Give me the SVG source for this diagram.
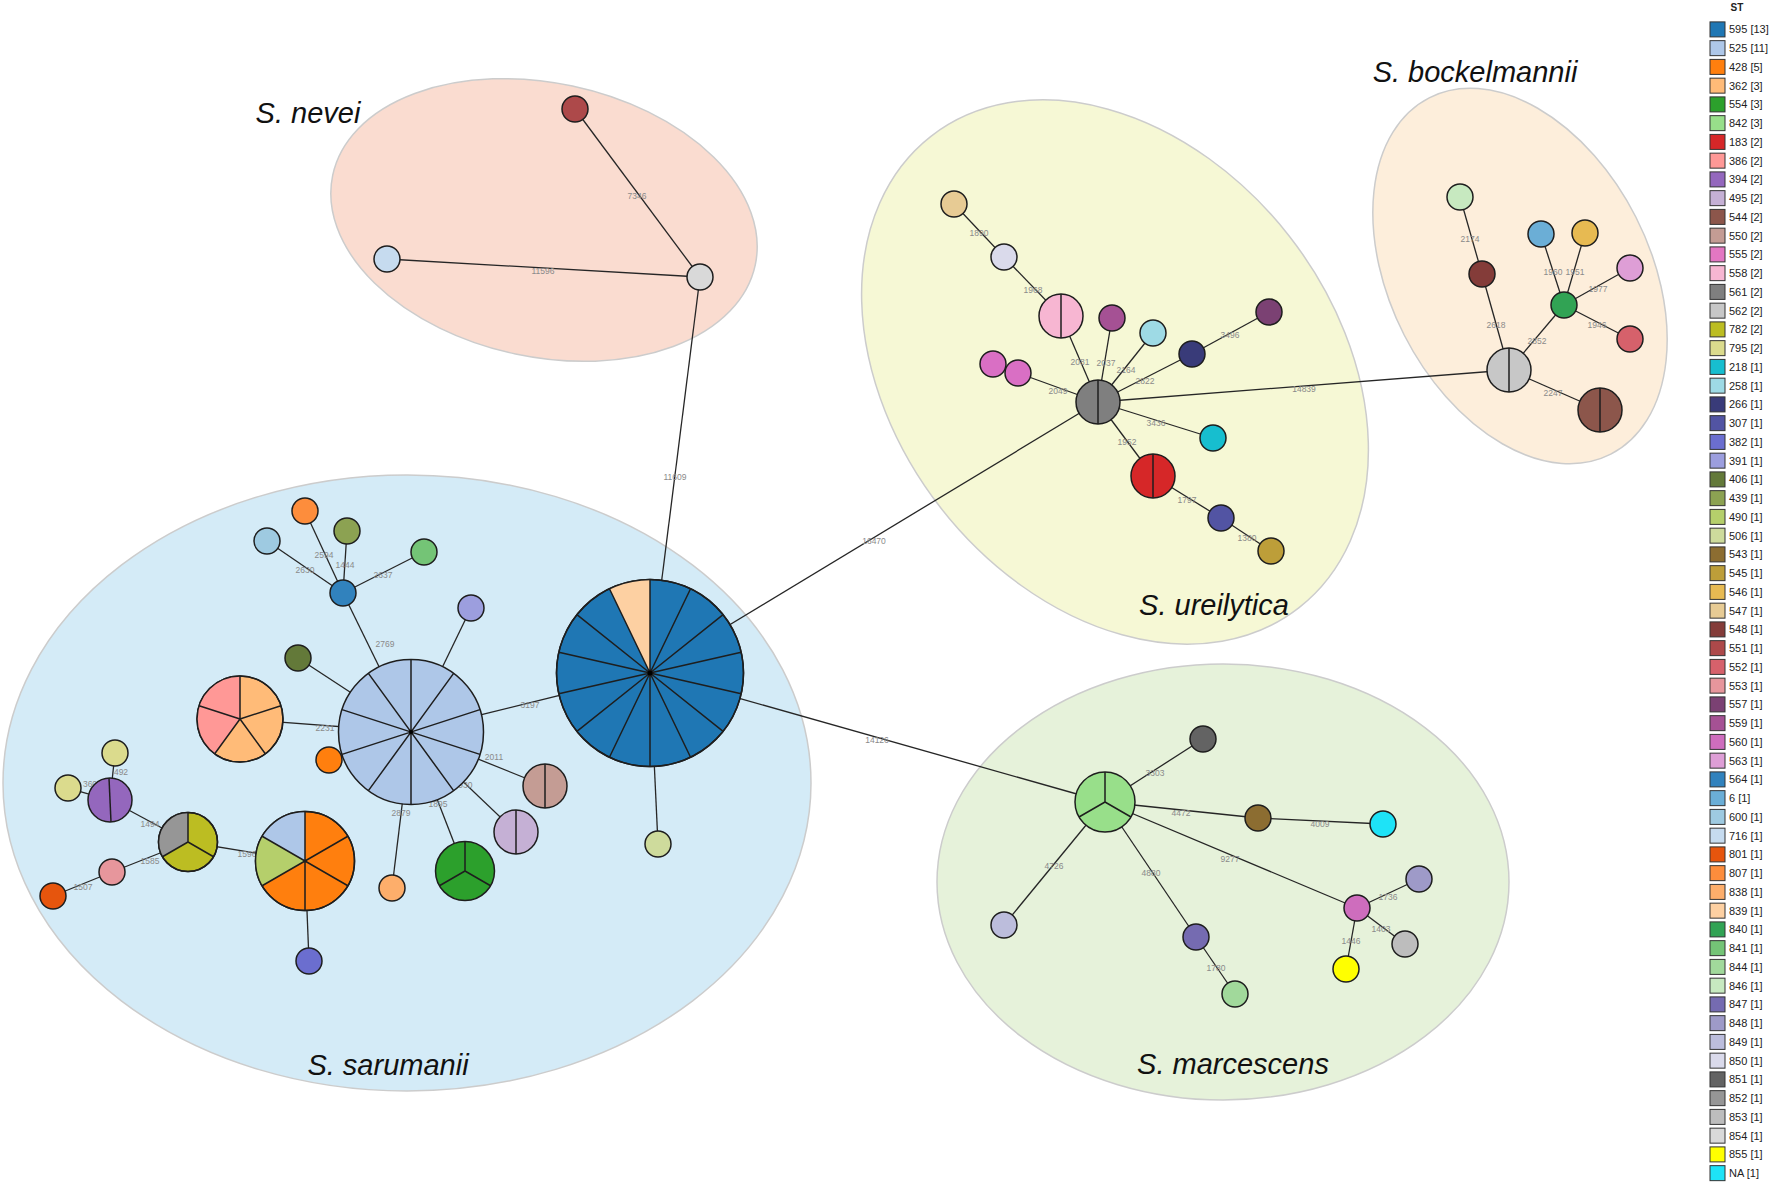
<svg xmlns="http://www.w3.org/2000/svg" width="1772" height="1185" viewBox="0 0 1772 1185">
<style>
.bg{stroke:#cccccc;stroke-width:1.5}
.e{stroke:#262626;stroke-width:1.3}
.n{stroke:#1e1e1e;stroke-width:1.5}
.d{stroke:#1e1e1e;stroke-width:1.5;fill:none}
.l{font-family:"Liberation Sans",Arial,sans-serif;font-size:8.5px;fill:#8a8a8a;text-anchor:middle;dominant-baseline:central}
.sp{font-family:"Liberation Sans",Arial,sans-serif;font-size:29px;font-style:italic;fill:#111;text-anchor:middle}
.lg{font-family:"Liberation Sans",Arial,sans-serif;font-size:11px;fill:#222}
.sw{stroke:#333;stroke-width:1}
</style>
<rect width="1772" height="1185" fill="#ffffff"/>
<g id="groups">
<ellipse class="bg" cx="407" cy="783" rx="404" ry="308" fill="#d4ebf7"/>
<ellipse class="bg" cx="1223" cy="882" rx="286" ry="218" fill="#e6f2da"/>
<ellipse class="bg" cx="1115" cy="372" rx="299" ry="221" fill="#f6f8d5" transform="rotate(52 1115 372)"/>
<ellipse class="bg" cx="1520" cy="276" rx="200" ry="130" fill="#fdeedb" transform="rotate(63 1520 276)"/>
<ellipse class="bg" cx="544" cy="220" rx="216" ry="137" fill="#fadcd0" transform="rotate(12 544 220)"/>
<text class="sp" x="308" y="123">S. nevei</text>
<text class="sp" x="1475" y="82">S. bockelmannii</text>
<text class="sp" x="1214" y="615">S. ureilytica</text>
<text class="sp" x="388" y="1075">S. sarumanii</text>
<text class="sp" x="1233" y="1074">S. marcescens</text>
</g>
<g id="connectors">
<line class="e" x1="575" y1="109" x2="700" y2="277"/>
<line class="e" x1="387" y1="259" x2="700" y2="277"/>
<line class="e" x1="700" y1="277" x2="650" y2="673"/>
<line class="e" x1="954" y1="204" x2="1004" y2="257"/>
<line class="e" x1="1004" y1="257" x2="1061" y2="316"/>
<line class="e" x1="1061" y1="316" x2="1098" y2="402"/>
<line class="e" x1="1112" y1="318" x2="1098" y2="402"/>
<line class="e" x1="1153" y1="333" x2="1098" y2="402"/>
<line class="e" x1="1192" y1="354" x2="1098" y2="402"/>
<line class="e" x1="1192" y1="354" x2="1269" y2="312"/>
<line class="e" x1="1018" y1="373" x2="1098" y2="402"/>
<line class="e" x1="1213" y1="438" x2="1098" y2="402"/>
<line class="e" x1="1153" y1="476" x2="1098" y2="402"/>
<line class="e" x1="1153" y1="476" x2="1221" y2="518"/>
<line class="e" x1="1221" y1="518" x2="1271" y2="551"/>
<line class="e" x1="1098" y1="402" x2="1509" y2="370"/>
<line class="e" x1="1098" y1="402" x2="650" y2="673"/>
<line class="e" x1="1460" y1="197" x2="1482" y2="274"/>
<line class="e" x1="1482" y1="274" x2="1509" y2="370"/>
<line class="e" x1="1509" y1="370" x2="1564" y2="305"/>
<line class="e" x1="1564" y1="305" x2="1541" y2="234"/>
<line class="e" x1="1564" y1="305" x2="1585" y2="233"/>
<line class="e" x1="1564" y1="305" x2="1630" y2="268"/>
<line class="e" x1="1564" y1="305" x2="1630" y2="339"/>
<line class="e" x1="1509" y1="370" x2="1600" y2="410"/>
<line class="e" x1="650" y1="673" x2="1105" y2="802"/>
<line class="e" x1="1105" y1="802" x2="1203" y2="739"/>
<line class="e" x1="1105" y1="802" x2="1258" y2="818"/>
<line class="e" x1="1258" y1="818" x2="1383" y2="824"/>
<line class="e" x1="1105" y1="802" x2="1357" y2="908"/>
<line class="e" x1="1105" y1="802" x2="1004" y2="925"/>
<line class="e" x1="1105" y1="802" x2="1196" y2="937"/>
<line class="e" x1="1196" y1="937" x2="1235" y2="994"/>
<line class="e" x1="1357" y1="908" x2="1419" y2="879"/>
<line class="e" x1="1357" y1="908" x2="1405" y2="944"/>
<line class="e" x1="1357" y1="908" x2="1346" y2="969"/>
<line class="e" x1="650" y1="673" x2="411" y2="732"/>
<line class="e" x1="650" y1="673" x2="658" y2="844"/>
<line class="e" x1="411" y1="732" x2="343" y2="593"/>
<line class="e" x1="343" y1="593" x2="267" y2="541"/>
<line class="e" x1="343" y1="593" x2="305" y2="511"/>
<line class="e" x1="343" y1="593" x2="347" y2="531"/>
<line class="e" x1="343" y1="593" x2="424" y2="552"/>
<line class="e" x1="411" y1="732" x2="471" y2="608"/>
<line class="e" x1="411" y1="732" x2="298" y2="658"/>
<line class="e" x1="411" y1="732" x2="240" y2="719"/>
<line class="e" x1="411" y1="732" x2="545" y2="786"/>
<line class="e" x1="411" y1="732" x2="516" y2="832"/>
<line class="e" x1="411" y1="732" x2="465" y2="871"/>
<line class="e" x1="411" y1="732" x2="392" y2="888"/>
<line class="e" x1="305" y1="861" x2="188" y2="842"/>
<line class="e" x1="305" y1="861" x2="309" y2="961"/>
<line class="e" x1="188" y1="842" x2="110" y2="800"/>
<line class="e" x1="188" y1="842" x2="112" y2="872"/>
<line class="e" x1="112" y1="872" x2="53" y2="896"/>
<line class="e" x1="110" y1="800" x2="115" y2="753"/>
<line class="e" x1="110" y1="800" x2="68" y2="788"/>
<g id="edge-labels">
<text class="l" x="637" y="196">7346</text>
<text class="l" x="543" y="271">11596</text>
<text class="l" x="675" y="477">11609</text>
<text class="l" x="979" y="233">1890</text>
<text class="l" x="1033" y="290">1968</text>
<text class="l" x="1080" y="362">2081</text>
<text class="l" x="1106" y="363">2037</text>
<text class="l" x="1126" y="370">2164</text>
<text class="l" x="1145" y="381">2822</text>
<text class="l" x="1230" y="335">3496</text>
<text class="l" x="1058" y="391">2049</text>
<text class="l" x="1156" y="423">3436</text>
<text class="l" x="1127" y="442">1952</text>
<text class="l" x="1187" y="500">1797</text>
<text class="l" x="1247" y="538">1380</text>
<text class="l" x="1304" y="389">14839</text>
<text class="l" x="874" y="541">16470</text>
<text class="l" x="1470" y="239">2174</text>
<text class="l" x="1496" y="325">2618</text>
<text class="l" x="1537" y="341">2852</text>
<text class="l" x="1553" y="272">1960</text>
<text class="l" x="1575" y="272">1951</text>
<text class="l" x="1598" y="289">1977</text>
<text class="l" x="1597" y="325">1946</text>
<text class="l" x="1553" y="393">2247</text>
<text class="l" x="877" y="740">14126</text>
<text class="l" x="1155" y="773">3303</text>
<text class="l" x="1181" y="813">4472</text>
<text class="l" x="1320" y="824">4009</text>
<text class="l" x="1230" y="859">9277</text>
<text class="l" x="1054" y="866">4726</text>
<text class="l" x="1151" y="873">4880</text>
<text class="l" x="1216" y="968">1780</text>
<text class="l" x="1388" y="897">1736</text>
<text class="l" x="1381" y="929">1403</text>
<text class="l" x="1351" y="941">1446</text>
<text class="l" x="530" y="705">3197</text>
<text class="l" x="385" y="644">2769</text>
<text class="l" x="305" y="570">2630</text>
<text class="l" x="324" y="555">2594</text>
<text class="l" x="345" y="565">1444</text>
<text class="l" x="383" y="575">2637</text>
<text class="l" x="325" y="728">2231</text>
<text class="l" x="494" y="757">2011</text>
<text class="l" x="463" y="785">1930</text>
<text class="l" x="438" y="804">1895</text>
<text class="l" x="401" y="813">2879</text>
<text class="l" x="247" y="854">1596</text>
<text class="l" x="150" y="824">1494</text>
<text class="l" x="150" y="861">1585</text>
<text class="l" x="83" y="887">1507</text>
<text class="l" x="121" y="772">492</text>
<text class="l" x="90" y="784">360</text>
</g>
</g>
<g id="nodes">
<g id="n551"><circle class="n" cx="575" cy="109" r="13" fill="#ad494a"/></g>
<g id="n716"><circle class="n" cx="387" cy="259" r="13" fill="#c6dbef"/></g>
<g id="n854"><circle class="n" cx="700" cy="277" r="13" fill="#d9d9d9"/></g>
<g id="n547"><circle class="n" cx="954" cy="204" r="13" fill="#e7cb94"/></g>
<g id="n850"><circle class="n" cx="1004" cy="257" r="13" fill="#dadaeb"/></g>
<g id="n558"><circle class="n" cx="1061" cy="316" r="22" fill="#f7b6d2"/><line class="d" x1="1061" y1="294" x2="1061" y2="338"/></g>
<g id="n559"><circle class="n" cx="1112" cy="318" r="13" fill="#a55194"/></g>
<g id="n258"><circle class="n" cx="1153" cy="333" r="13" fill="#9edae5"/></g>
<g id="n266"><circle class="n" cx="1192" cy="354" r="13" fill="#393b79"/></g>
<g id="n557"><circle class="n" cx="1269" cy="312" r="13" fill="#7b4173"/></g>
<g id="n555a"><circle class="n" cx="993" cy="364" r="13" fill="#d96fc4"/></g>
<g id="n555b"><circle class="n" cx="1018" cy="373" r="13" fill="#d96fc4"/></g>
<g id="n561"><circle class="n" cx="1098" cy="402" r="22" fill="#7f7f7f"/><line class="d" x1="1098" y1="380" x2="1098" y2="424"/></g>
<g id="n218"><circle class="n" cx="1213" cy="438" r="13" fill="#17becf"/></g>
<g id="n183"><circle class="n" cx="1153" cy="476" r="22" fill="#d62728"/><line class="d" x1="1153" y1="454" x2="1153" y2="498"/></g>
<g id="n307"><circle class="n" cx="1221" cy="518" r="13" fill="#5254a3"/></g>
<g id="n545"><circle class="n" cx="1271" cy="551" r="13" fill="#bd9e39"/></g>
<g id="n846"><circle class="n" cx="1460" cy="197" r="13" fill="#c7e9c0"/></g>
<g id="n548"><circle class="n" cx="1482" cy="274" r="13" fill="#843c39"/></g>
<g id="n6"><circle class="n" cx="1541" cy="234" r="13" fill="#6baed6"/></g>
<g id="n546"><circle class="n" cx="1585" cy="233" r="13" fill="#e7ba52"/></g>
<g id="n563"><circle class="n" cx="1630" cy="268" r="13" fill="#de9ed6"/></g>
<g id="n840"><circle class="n" cx="1564" cy="305" r="13" fill="#31a354"/></g>
<g id="n552"><circle class="n" cx="1630" cy="339" r="13" fill="#d6616b"/></g>
<g id="n562"><circle class="n" cx="1509" cy="370" r="22" fill="#c7c7c7"/><line class="d" x1="1509" y1="348" x2="1509" y2="392"/></g>
<g id="n544"><circle class="n" cx="1600" cy="410" r="22" fill="#8c564b"/><line class="d" x1="1600" y1="388" x2="1600" y2="432"/></g>
<g id="n842"><circle class="n" cx="1105" cy="802" r="30" fill="#98df8a"/><path class="d" d="M1105,802 L1105,772 M1105,802 L1131,817 M1105,802 L1079,817"/></g>
<g id="n851"><circle class="n" cx="1203" cy="739" r="13" fill="#636363"/></g>
<g id="n543"><circle class="n" cx="1258" cy="818" r="13" fill="#8c6d31"/></g>
<g id="nNA"><circle class="n" cx="1383" cy="824" r="13" fill="#1ee3f7"/></g>
<g id="n849"><circle class="n" cx="1004" cy="925" r="13" fill="#bcbddc"/></g>
<g id="n847"><circle class="n" cx="1196" cy="937" r="13" fill="#756bb1"/></g>
<g id="n844"><circle class="n" cx="1235" cy="994" r="13" fill="#a1d99b"/></g>
<g id="n560"><circle class="n" cx="1357" cy="908" r="13" fill="#ce6dbd"/></g>
<g id="n848"><circle class="n" cx="1419" cy="879" r="13" fill="#9e9ac8"/></g>
<g id="n853"><circle class="n" cx="1405" cy="944" r="13" fill="#bdbdbd"/></g>
<g id="n855"><circle class="n" cx="1346" cy="969" r="13" fill="#ffff00"/></g>
<g id="n595">
<circle class="n" cx="650" cy="673" r="93.5" fill="#1f77b4"/>
<path d="M650,673 L609.43,588.76 A93.5,93.5 0 0 1 650,579.5 Z" fill="#fdd0a2"/>
<path class="d" d="M650,673 L650,579.5 M650,673 L690.57,588.76 M650,673 L723.1,614.7 M650,673 L741.16,652.19 M650,673 L741.16,693.81 M650,673 L723.1,731.3 M650,673 L690.57,757.24 M650,673 L650,766.5 M650,673 L609.43,757.24 M650,673 L576.9,731.3 M650,673 L558.84,693.81 M650,673 L558.84,652.19 M650,673 L576.9,614.7 M650,673 L609.43,588.76"/>
<circle class="d" cx="650" cy="673" r="93.5"/>
<circle cx="650" cy="673" r="2.5" fill="#000"/>
</g>
<g id="n525">
<circle class="n" cx="411" cy="732" r="72.5" fill="#aec7e8"/>
<path class="d" d="M411,659.5 L411,804.5 M453.61,673.35 L368.39,790.65 M479.95,709.6 L342.05,754.4 M479.95,754.4 L342.05,709.6 M453.61,790.65 L368.39,673.35"/>
<circle cx="411" cy="732" r="2" fill="#000"/>
</g>
<g id="n564"><circle class="n" cx="343" cy="593" r="13" fill="#3182bd"/></g>
<g id="n807"><circle class="n" cx="305" cy="511" r="13" fill="#fd8d3c"/></g>
<g id="n600"><circle class="n" cx="267" cy="541" r="13" fill="#9ecae1"/></g>
<g id="n439"><circle class="n" cx="347" cy="531" r="13" fill="#8ca252"/></g>
<g id="n841"><circle class="n" cx="424" cy="552" r="13" fill="#74c476"/></g>
<g id="n391"><circle class="n" cx="471" cy="608" r="13" fill="#9c9ede"/></g>
<g id="n406"><circle class="n" cx="298" cy="658" r="13" fill="#637939"/></g>
<g id="n428s"><circle class="n" cx="329" cy="760" r="13" fill="#ff7f0e"/></g>
<g id="n386">
<circle class="n" cx="240" cy="719" r="43" fill="#ffbb78"/>
<path d="M240,719 L214.72,753.79 A43,43 0 0 1 240,676 Z" fill="#ff9896"/>
<path class="d" d="M240,719 L240,676 M240,719 L280.9,705.71 M240,719 L265.28,753.79 M240,719 L214.72,753.79 M240,719 L199.1,705.71"/>
<circle class="d" cx="240" cy="719" r="43"/>
</g>
<g id="n550"><circle class="n" cx="545" cy="786" r="22" fill="#c49c94"/><line class="d" x1="545" y1="764" x2="545" y2="808"/></g>
<g id="n495"><circle class="n" cx="516" cy="832" r="22" fill="#c5b0d5"/><line class="d" x1="516" y1="810" x2="516" y2="854"/></g>
<g id="n554"><circle class="n" cx="465" cy="871" r="29.5" fill="#2ca02c"/><path class="d" d="M465,871 L465,841.5 M465,871 L490.55,885.75 M465,871 L439.45,885.75"/></g>
<g id="n838"><circle class="n" cx="392" cy="888" r="13" fill="#fdae6b"/></g>
<g id="n506"><circle class="n" cx="658" cy="844" r="13" fill="#cedb9c"/></g>
<g id="n428">
<circle class="n" cx="305" cy="861" r="49.5" fill="#ff7f0e"/>
<path d="M305,861 L262.13,885.75 A49.5,49.5 0 0 1 262.13,836.25 Z" fill="#b5cf6b"/>
<path d="M305,861 L262.13,836.25 A49.5,49.5 0 0 1 305,811.5 Z" fill="#aec7e8"/>
<path class="d" d="M305,811.5 L305,910.5 M347.87,836.25 L262.13,885.75 M347.87,885.75 L262.13,836.25"/>
<circle class="d" cx="305" cy="861" r="49.5"/>
</g>
<g id="n382"><circle class="n" cx="309" cy="961" r="13" fill="#6b6ecf"/></g>
<g id="n782">
<circle class="n" cx="188" cy="842" r="29.5" fill="#bcbd22"/>
<path d="M188,842 L162.45,856.75 A29.5,29.5 0 0 1 188,812.5 Z" fill="#969696"/>
<path class="d" d="M188,842 L188,812.5 M188,842 L213.55,856.75 M188,842 L162.45,856.75"/>
<circle class="d" cx="188" cy="842" r="29.5"/>
</g>
<g id="n394"><circle class="n" cx="110" cy="800" r="22" fill="#9467bd"/><line class="d" x1="109" y1="778" x2="111" y2="822"/></g>
<g id="n795a"><circle class="n" cx="115" cy="753" r="13" fill="#dbdb8d"/></g>
<g id="n795b"><circle class="n" cx="68" cy="788" r="13" fill="#dbdb8d"/></g>
<g id="n553"><circle class="n" cx="112" cy="872" r="13" fill="#e7969c"/></g>
<g id="n801"><circle class="n" cx="53" cy="896" r="13" fill="#e6550d"/></g>
</g>
<g id="legend">
<text x="1737" y="11" font-family="Liberation Sans, Arial, sans-serif" font-size="10" font-weight="bold" fill="#222" text-anchor="middle">ST</text>
<g transform="translate(0,29.4)"><rect class="sw" x="1710" y="-7.5" width="15" height="15" fill="#1f77b4"/><text class="lg" x="1729" y="4">595 [13]</text></g>
<g transform="translate(0,48.15)"><rect class="sw" x="1710" y="-7.5" width="15" height="15" fill="#aec7e8"/><text class="lg" x="1729" y="4">525 [11]</text></g>
<g transform="translate(0,66.9)"><rect class="sw" x="1710" y="-7.5" width="15" height="15" fill="#ff7f0e"/><text class="lg" x="1729" y="4">428 [5]</text></g>
<g transform="translate(0,85.65)"><rect class="sw" x="1710" y="-7.5" width="15" height="15" fill="#ffbb78"/><text class="lg" x="1729" y="4">362 [3]</text></g>
<g transform="translate(0,104.4)"><rect class="sw" x="1710" y="-7.5" width="15" height="15" fill="#2ca02c"/><text class="lg" x="1729" y="4">554 [3]</text></g>
<g transform="translate(0,123.15)"><rect class="sw" x="1710" y="-7.5" width="15" height="15" fill="#98df8a"/><text class="lg" x="1729" y="4">842 [3]</text></g>
<g transform="translate(0,141.9)"><rect class="sw" x="1710" y="-7.5" width="15" height="15" fill="#d62728"/><text class="lg" x="1729" y="4">183 [2]</text></g>
<g transform="translate(0,160.65)"><rect class="sw" x="1710" y="-7.5" width="15" height="15" fill="#ff9896"/><text class="lg" x="1729" y="4">386 [2]</text></g>
<g transform="translate(0,179.4)"><rect class="sw" x="1710" y="-7.5" width="15" height="15" fill="#9467bd"/><text class="lg" x="1729" y="4">394 [2]</text></g>
<g transform="translate(0,198.15)"><rect class="sw" x="1710" y="-7.5" width="15" height="15" fill="#c5b0d5"/><text class="lg" x="1729" y="4">495 [2]</text></g>
<g transform="translate(0,216.9)"><rect class="sw" x="1710" y="-7.5" width="15" height="15" fill="#8c564b"/><text class="lg" x="1729" y="4">544 [2]</text></g>
<g transform="translate(0,235.65)"><rect class="sw" x="1710" y="-7.5" width="15" height="15" fill="#c49c94"/><text class="lg" x="1729" y="4">550 [2]</text></g>
<g transform="translate(0,254.4)"><rect class="sw" x="1710" y="-7.5" width="15" height="15" fill="#e377c2"/><text class="lg" x="1729" y="4">555 [2]</text></g>
<g transform="translate(0,273.15)"><rect class="sw" x="1710" y="-7.5" width="15" height="15" fill="#f7b6d2"/><text class="lg" x="1729" y="4">558 [2]</text></g>
<g transform="translate(0,291.9)"><rect class="sw" x="1710" y="-7.5" width="15" height="15" fill="#7f7f7f"/><text class="lg" x="1729" y="4">561 [2]</text></g>
<g transform="translate(0,310.65)"><rect class="sw" x="1710" y="-7.5" width="15" height="15" fill="#c7c7c7"/><text class="lg" x="1729" y="4">562 [2]</text></g>
<g transform="translate(0,329.4)"><rect class="sw" x="1710" y="-7.5" width="15" height="15" fill="#bcbd22"/><text class="lg" x="1729" y="4">782 [2]</text></g>
<g transform="translate(0,348.15)"><rect class="sw" x="1710" y="-7.5" width="15" height="15" fill="#dbdb8d"/><text class="lg" x="1729" y="4">795 [2]</text></g>
<g transform="translate(0,366.9)"><rect class="sw" x="1710" y="-7.5" width="15" height="15" fill="#17becf"/><text class="lg" x="1729" y="4">218 [1]</text></g>
<g transform="translate(0,385.65)"><rect class="sw" x="1710" y="-7.5" width="15" height="15" fill="#9edae5"/><text class="lg" x="1729" y="4">258 [1]</text></g>
<g transform="translate(0,404.4)"><rect class="sw" x="1710" y="-7.5" width="15" height="15" fill="#393b79"/><text class="lg" x="1729" y="4">266 [1]</text></g>
<g transform="translate(0,423.15)"><rect class="sw" x="1710" y="-7.5" width="15" height="15" fill="#5254a3"/><text class="lg" x="1729" y="4">307 [1]</text></g>
<g transform="translate(0,441.9)"><rect class="sw" x="1710" y="-7.5" width="15" height="15" fill="#6b6ecf"/><text class="lg" x="1729" y="4">382 [1]</text></g>
<g transform="translate(0,460.65)"><rect class="sw" x="1710" y="-7.5" width="15" height="15" fill="#9c9ede"/><text class="lg" x="1729" y="4">391 [1]</text></g>
<g transform="translate(0,479.4)"><rect class="sw" x="1710" y="-7.5" width="15" height="15" fill="#637939"/><text class="lg" x="1729" y="4">406 [1]</text></g>
<g transform="translate(0,498.15)"><rect class="sw" x="1710" y="-7.5" width="15" height="15" fill="#8ca252"/><text class="lg" x="1729" y="4">439 [1]</text></g>
<g transform="translate(0,516.9)"><rect class="sw" x="1710" y="-7.5" width="15" height="15" fill="#b5cf6b"/><text class="lg" x="1729" y="4">490 [1]</text></g>
<g transform="translate(0,535.65)"><rect class="sw" x="1710" y="-7.5" width="15" height="15" fill="#cedb9c"/><text class="lg" x="1729" y="4">506 [1]</text></g>
<g transform="translate(0,554.4)"><rect class="sw" x="1710" y="-7.5" width="15" height="15" fill="#8c6d31"/><text class="lg" x="1729" y="4">543 [1]</text></g>
<g transform="translate(0,573.15)"><rect class="sw" x="1710" y="-7.5" width="15" height="15" fill="#bd9e39"/><text class="lg" x="1729" y="4">545 [1]</text></g>
<g transform="translate(0,591.9)"><rect class="sw" x="1710" y="-7.5" width="15" height="15" fill="#e7ba52"/><text class="lg" x="1729" y="4">546 [1]</text></g>
<g transform="translate(0,610.65)"><rect class="sw" x="1710" y="-7.5" width="15" height="15" fill="#e7cb94"/><text class="lg" x="1729" y="4">547 [1]</text></g>
<g transform="translate(0,629.4)"><rect class="sw" x="1710" y="-7.5" width="15" height="15" fill="#843c39"/><text class="lg" x="1729" y="4">548 [1]</text></g>
<g transform="translate(0,648.15)"><rect class="sw" x="1710" y="-7.5" width="15" height="15" fill="#ad494a"/><text class="lg" x="1729" y="4">551 [1]</text></g>
<g transform="translate(0,666.9)"><rect class="sw" x="1710" y="-7.5" width="15" height="15" fill="#d6616b"/><text class="lg" x="1729" y="4">552 [1]</text></g>
<g transform="translate(0,685.65)"><rect class="sw" x="1710" y="-7.5" width="15" height="15" fill="#e7969c"/><text class="lg" x="1729" y="4">553 [1]</text></g>
<g transform="translate(0,704.4)"><rect class="sw" x="1710" y="-7.5" width="15" height="15" fill="#7b4173"/><text class="lg" x="1729" y="4">557 [1]</text></g>
<g transform="translate(0,723.15)"><rect class="sw" x="1710" y="-7.5" width="15" height="15" fill="#a55194"/><text class="lg" x="1729" y="4">559 [1]</text></g>
<g transform="translate(0,741.9)"><rect class="sw" x="1710" y="-7.5" width="15" height="15" fill="#ce6dbd"/><text class="lg" x="1729" y="4">560 [1]</text></g>
<g transform="translate(0,760.65)"><rect class="sw" x="1710" y="-7.5" width="15" height="15" fill="#de9ed6"/><text class="lg" x="1729" y="4">563 [1]</text></g>
<g transform="translate(0,779.4)"><rect class="sw" x="1710" y="-7.5" width="15" height="15" fill="#3182bd"/><text class="lg" x="1729" y="4">564 [1]</text></g>
<g transform="translate(0,798.15)"><rect class="sw" x="1710" y="-7.5" width="15" height="15" fill="#6baed6"/><text class="lg" x="1729" y="4">6 [1]</text></g>
<g transform="translate(0,816.9)"><rect class="sw" x="1710" y="-7.5" width="15" height="15" fill="#9ecae1"/><text class="lg" x="1729" y="4">600 [1]</text></g>
<g transform="translate(0,835.65)"><rect class="sw" x="1710" y="-7.5" width="15" height="15" fill="#c6dbef"/><text class="lg" x="1729" y="4">716 [1]</text></g>
<g transform="translate(0,854.4)"><rect class="sw" x="1710" y="-7.5" width="15" height="15" fill="#e6550d"/><text class="lg" x="1729" y="4">801 [1]</text></g>
<g transform="translate(0,873.15)"><rect class="sw" x="1710" y="-7.5" width="15" height="15" fill="#fd8d3c"/><text class="lg" x="1729" y="4">807 [1]</text></g>
<g transform="translate(0,891.9)"><rect class="sw" x="1710" y="-7.5" width="15" height="15" fill="#fdae6b"/><text class="lg" x="1729" y="4">838 [1]</text></g>
<g transform="translate(0,910.65)"><rect class="sw" x="1710" y="-7.5" width="15" height="15" fill="#fdd0a2"/><text class="lg" x="1729" y="4">839 [1]</text></g>
<g transform="translate(0,929.4)"><rect class="sw" x="1710" y="-7.5" width="15" height="15" fill="#31a354"/><text class="lg" x="1729" y="4">840 [1]</text></g>
<g transform="translate(0,948.15)"><rect class="sw" x="1710" y="-7.5" width="15" height="15" fill="#74c476"/><text class="lg" x="1729" y="4">841 [1]</text></g>
<g transform="translate(0,966.9)"><rect class="sw" x="1710" y="-7.5" width="15" height="15" fill="#a1d99b"/><text class="lg" x="1729" y="4">844 [1]</text></g>
<g transform="translate(0,985.65)"><rect class="sw" x="1710" y="-7.5" width="15" height="15" fill="#c7e9c0"/><text class="lg" x="1729" y="4">846 [1]</text></g>
<g transform="translate(0,1004.4)"><rect class="sw" x="1710" y="-7.5" width="15" height="15" fill="#756bb1"/><text class="lg" x="1729" y="4">847 [1]</text></g>
<g transform="translate(0,1023.15)"><rect class="sw" x="1710" y="-7.5" width="15" height="15" fill="#9e9ac8"/><text class="lg" x="1729" y="4">848 [1]</text></g>
<g transform="translate(0,1041.9)"><rect class="sw" x="1710" y="-7.5" width="15" height="15" fill="#bcbddc"/><text class="lg" x="1729" y="4">849 [1]</text></g>
<g transform="translate(0,1060.65)"><rect class="sw" x="1710" y="-7.5" width="15" height="15" fill="#dadaeb"/><text class="lg" x="1729" y="4">850 [1]</text></g>
<g transform="translate(0,1079.4)"><rect class="sw" x="1710" y="-7.5" width="15" height="15" fill="#636363"/><text class="lg" x="1729" y="4">851 [1]</text></g>
<g transform="translate(0,1098.15)"><rect class="sw" x="1710" y="-7.5" width="15" height="15" fill="#969696"/><text class="lg" x="1729" y="4">852 [1]</text></g>
<g transform="translate(0,1116.9)"><rect class="sw" x="1710" y="-7.5" width="15" height="15" fill="#bdbdbd"/><text class="lg" x="1729" y="4">853 [1]</text></g>
<g transform="translate(0,1135.65)"><rect class="sw" x="1710" y="-7.5" width="15" height="15" fill="#d9d9d9"/><text class="lg" x="1729" y="4">854 [1]</text></g>
<g transform="translate(0,1154.4)"><rect class="sw" x="1710" y="-7.5" width="15" height="15" fill="#ffff00"/><text class="lg" x="1729" y="4">855 [1]</text></g>
<g transform="translate(0,1173.15)"><rect class="sw" x="1710" y="-7.5" width="15" height="15" fill="#1ee3f7"/><text class="lg" x="1729" y="4">NA [1]</text></g>
</g>
</svg>
